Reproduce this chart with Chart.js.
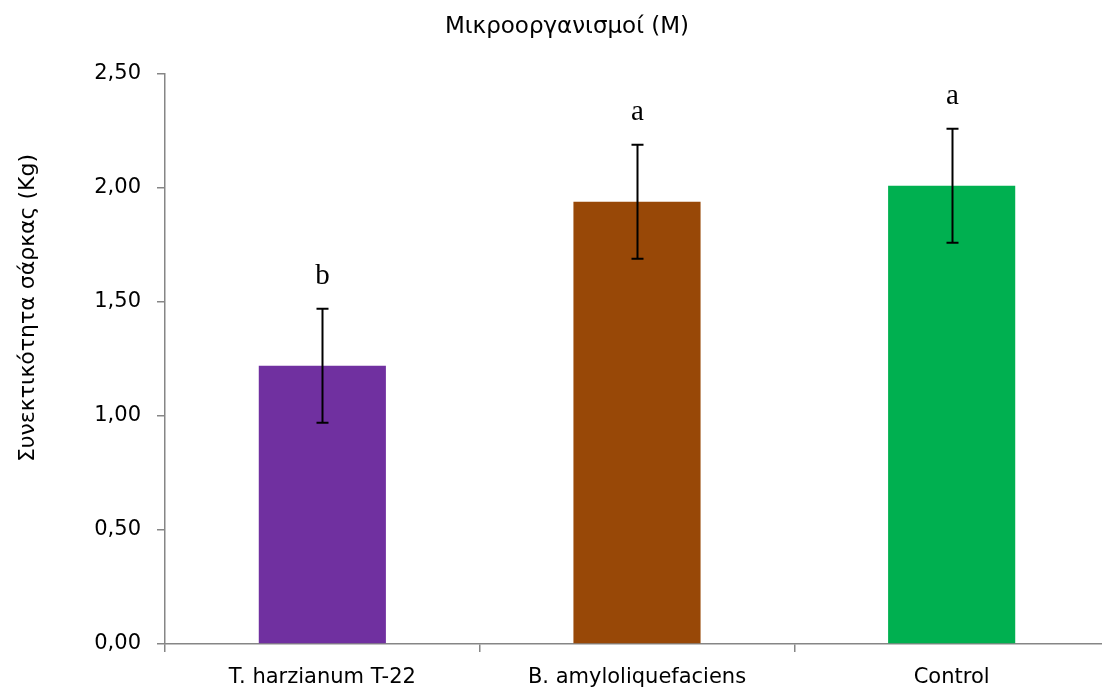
<!DOCTYPE html>
<html>
<head>
<meta charset="utf-8">
<script src="https://cdn.jsdelivr.net/npm/chart.js@4"></script>
<style>
html,body{margin:0;padding:0;background:#fff;overflow:hidden;}
#wrap{width:1102px;height:693px;position:relative;overflow:hidden;}
canvas{position:absolute;left:0;top:0;}
</style>
</head>
<body>
<div id="wrap"><canvas id="c" width="1109" height="693"></canvas></div>
<script>
const categories = ['T. harzianum T-22', 'B. amyloliquefaciens', 'Control'];
const means = [1.22, 1.94, 2.01];
const errors = [0.25, 0.25, 0.25];
const letters = ['b', 'a', 'a'];
const barColors = ['#7030A0', '#984807', '#00B050'];
const chartTitle = 'Μικροοργανισμοί (Μ)';
const yTitle = 'Συνεκτικότητα σάρκας (Kg)';
const yMin = 0, yMax = 2.5, yStep = 0.5;

const AXIS = '#868686';
const FONT = '"DejaVu Sans", "Open Sans", sans-serif';

const overlay = {
  id: 'overlay',
  afterDatasetsDraw(chart) {
    const ctx = chart.ctx;
    const x = chart.scales.x, y = chart.scales.y;
    ctx.save();
    ctx.strokeStyle = '#000';
    ctx.lineWidth = 2;
    means.forEach((m, i) => {
      const cx = Math.round(x.getPixelForValue(i)) + 0.5;
      const top = y.getPixelForValue(m + errors[i]);
      const bot = y.getPixelForValue(m - errors[i]);
      ctx.beginPath();
      ctx.moveTo(cx, top); ctx.lineTo(cx, bot);
      ctx.moveTo(cx - 6, top); ctx.lineTo(cx + 6, top);
      ctx.moveTo(cx - 6, bot); ctx.lineTo(cx + 6, bot);
      ctx.stroke();
      ctx.fillStyle = '#000';
      ctx.font = '29px "Liberation Serif", "Times New Roman", serif';
      ctx.textAlign = 'center';
      ctx.textBaseline = 'alphabetic';
      ctx.fillText(letters[i], cx, top - 25);
    });
    ctx.restore();
  },
  afterDraw(chart) {
    const ctx = chart.ctx;
    ctx.save();
    ctx.fillStyle = '#000';
    ctx.textAlign = 'center';
    ctx.textBaseline = 'middle';
    ctx.font = '23px ' + FONT;
    ctx.fillText(chartTitle, 567, 27);
    ctx.font = '22px ' + FONT;
    ctx.translate(28, 308);
    ctx.rotate(-Math.PI / 2);
    ctx.fillText(yTitle, 0, 0);
    ctx.restore();
  }
};

new Chart(document.getElementById('c'), {
  type: 'bar',
  data: {
    labels: categories,
    datasets: [{
      data: means,
      backgroundColor: barColors,
      borderWidth: 0,
      barPercentage: 0.404,
      categoryPercentage: 1.0
    }]
  },
  options: {
    responsive: false,
    animation: false,
    events: [],
    layout: { padding: { top: 74, right: 0, left: 0, bottom: 0 } },
    plugins: { legend: { display: false }, tooltip: { enabled: false }, title: { display: false } },
    scales: {
      x: {
        grid: { display: true, drawOnChartArea: false, drawTicks: true, tickLength: 8, color: AXIS, lineWidth: 1.5, offset: true },
        border: { display: true, color: AXIS, width: 1.5 },
        ticks: { color: '#000', font: { family: FONT, size: 21 }, padding: 13, maxRotation: 0 },
        afterFit(s) { s.height = 49; }
      },
      y: {
        min: yMin, max: yMax,
        grid: { display: true, drawOnChartArea: false, drawTicks: true, tickLength: 8, color: AXIS, lineWidth: 1.5 },
        border: { display: true, color: AXIS, width: 1.5 },
        ticks: {
          stepSize: yStep, color: '#000', font: { family: FONT, size: 21 }, padding: 16,
          callback: v => v.toFixed(2).replace('.', ',')
        },
        afterFit(s) { s.width = 165; }
      }
    }
  },
  plugins: [overlay]
});
</script>
</body>
</html>
